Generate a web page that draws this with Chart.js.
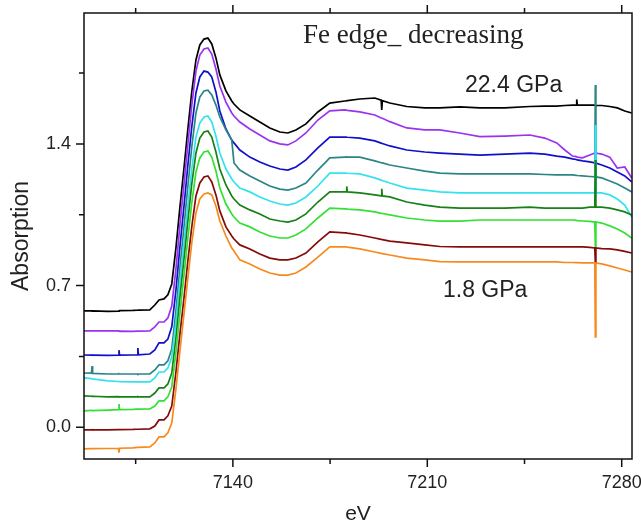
<!DOCTYPE html>
<html>
<head>
<meta charset="utf-8">
<title>Fe edge_ decreasing</title>
<script src="https://cdn.jsdelivr.net/npm/chart.js@4.4.1/dist/chart.umd.min.js"></script>
<style>
  html, body { margin: 0; padding: 0; background: #fff; }
  #chart { display: block; }
</style>
</head>
<body>
<canvas id="chart" width="641" height="527"></canvas>
<script>
// photon energy grid (eV), shared by every scan; tight triplets hold glitches
var energy = [7086.4, 7089.1, 7089.3, 7089.5, 7095.0, 7098.8, 7099.0, 7099.2, 7104.0, 7105.6, 7105.8, 7106.0,
  7110.1, 7111.9, 7113.4, 7115.2, 7116.6, 7118.0, 7119.5, 7120.9, 7122.4, 7123.8, 7125.2, 7126.7, 7128.1,
  7129.6, 7131.0, 7132.4, 7133.9, 7135.3, 7137.5, 7139.6, 7140.4, 7142.5, 7146.1, 7149.7, 7153.3, 7156.9,
  7159.8, 7162.7, 7166.3, 7170.6, 7174.9,
  7180.3, 7180.8, 7181.0, 7181.2, 7185.7, 7191.1, 7193.4, 7193.6, 7193.8,
  7196.5, 7202.6, 7209.1, 7214.5, 7221.7, 7228.9, 7237.9, 7246.9, 7252.3, 7256.6, 7259.5, 7262.3,
  7263.6, 7263.8, 7264.0, 7265.9, 7268.5, 7270.3, 7270.5, 7270.7, 7272.8, 7275.7, 7278.4, 7281.1, 7283.6];

// normalised absorption, stacked with offsets, 22.4 GPa on top down to 1.8 GPa
var scanBlack = [0.575, 0.575, 0.574, 0.575, 0.573, 0.574, 0.575, 0.576, 0.577, 0.578, 0.578, 0.579,
  0.580, 0.604, 0.629, 0.634, 0.654, 0.708, 0.886, 1.083, 1.281, 1.474, 1.657, 1.815, 1.889,
  1.918, 1.923, 1.894, 1.825, 1.741, 1.662, 1.612, 1.597, 1.568, 1.538, 1.508, 1.479, 1.459,
  1.454, 1.469, 1.499, 1.558, 1.602,
  1.612, 1.613, 1.613, 1.614, 1.622, 1.627, 1.616, 1.568, 1.614,
  1.602, 1.585, 1.578, 1.578, 1.583, 1.578, 1.578, 1.585, 1.587, 1.587, 1.590, 1.592,
  1.592, 1.620, 1.592, 1.592, 1.592, 1.592, 1.592, 1.590, 1.590, 1.585, 1.578, 1.563, 1.553];
var scanPurple = [0.476, 0.476, 0.476, 0.476, 0.476, 0.476, 0.475, 0.475, 0.474, 0.475, 0.475, 0.475,
  0.476, 0.496, 0.520, 0.520, 0.540, 0.599, 0.782, 0.995, 1.202, 1.400, 1.592, 1.760, 1.839,
  1.869, 1.874, 1.844, 1.770, 1.686, 1.607, 1.553, 1.538, 1.508, 1.474, 1.444, 1.415, 1.400,
  1.395, 1.415, 1.454, 1.518, 1.563,
  1.568, 1.567, 1.567, 1.566, 1.558, 1.543, 1.528, 1.528, 1.527,
  1.510, 1.479, 1.469, 1.469, 1.454, 1.436, 1.439, 1.444, 1.429, 1.405, 1.370, 1.340,
  1.337, 1.336, 1.335, 1.331, 1.345, 1.355, 1.355, 1.355, 1.350, 1.335, 1.281, 1.286, 1.232];
var scanBlue = [0.357, 0.356, 0.357, 0.356, 0.355, 0.356, 0.381, 0.356, 0.357, 0.358, 0.391, 0.358,
  0.362, 0.382, 0.417, 0.417, 0.436, 0.496, 0.678, 0.886, 1.093, 1.296, 1.484, 1.652, 1.731,
  1.760, 1.755, 1.731, 1.657, 1.563, 1.474, 1.419, 1.405, 1.370, 1.335, 1.311, 1.291, 1.276,
  1.271, 1.286, 1.321, 1.380, 1.434,
  1.434, 1.434, 1.434, 1.433, 1.429, 1.415, 1.404, 1.403, 1.402,
  1.390, 1.370, 1.360, 1.355, 1.350, 1.345, 1.350, 1.355, 1.350, 1.340, 1.335, 1.326,
  1.323, 1.322, 1.321, 1.316, 1.311, 1.306, 1.306, 1.306, 1.296, 1.281, 1.261, 1.242, 1.212];
var scanTeal = [0.268, 0.267, 0.302, 0.266, 0.263, 0.263, 0.264, 0.263, 0.263, 0.263, 0.262, 0.263,
  0.263, 0.283, 0.308, 0.308, 0.328, 0.387, 0.575, 0.782, 0.990, 1.192, 1.385, 1.553, 1.632,
  1.662, 1.666, 1.642, 1.592, 1.533, 1.469, 1.419, 1.306, 1.271, 1.242, 1.217, 1.192, 1.177,
  1.172, 1.182, 1.207, 1.271, 1.331,
  1.335, 1.335, 1.336, 1.335, 1.335, 1.316, 1.307, 1.307, 1.306,
  1.296, 1.281, 1.266, 1.256, 1.252, 1.252, 1.252, 1.252, 1.249, 1.247, 1.247, 1.247,
  1.245, 1.245, 1.244, 1.242, 1.239, 1.237, 1.691, 1.237, 1.232, 1.217, 1.202, 1.182, 1.163];
var scanCyan = [0.244, 0.240, 0.239, 0.239, 0.229, 0.226, 0.226, 0.225, 0.224, 0.224, 0.224, 0.224,
  0.224, 0.244, 0.273, 0.273, 0.293, 0.347, 0.520, 0.713, 0.911, 1.098, 1.276, 1.434, 1.503,
  1.533, 1.538, 1.508, 1.439, 1.355, 1.276, 1.227, 1.212, 1.182, 1.163, 1.138, 1.118, 1.103,
  1.098, 1.108, 1.138, 1.192, 1.256,
  1.256, 1.256, 1.256, 1.255, 1.252, 1.232, 1.221, 1.220, 1.219,
  1.207, 1.182, 1.172, 1.163, 1.158, 1.158, 1.158, 1.158, 1.158, 1.158, 1.158, 1.158,
  1.158, 1.158, 1.158, 1.158, 1.158, 1.158, 1.494, 1.158, 1.158, 1.148, 1.128, 1.098, 1.039];
var scanDarkGreen = [0.155, 0.153, 0.152, 0.153, 0.150, 0.151, 0.150, 0.150, 0.150, 0.150, 0.151, 0.150,
  0.150, 0.169, 0.194, 0.194, 0.214, 0.268, 0.441, 0.639, 0.832, 1.019, 1.202, 1.355, 1.429,
  1.459, 1.464, 1.434, 1.360, 1.276, 1.197, 1.143, 1.128, 1.098, 1.074, 1.054, 1.029, 1.019,
  1.014, 1.024, 1.054, 1.113, 1.163,
  1.163, 1.163, 1.190, 1.163, 1.158, 1.148, 1.143, 1.178, 1.143,
  1.138, 1.113, 1.098, 1.088, 1.083, 1.083, 1.083, 1.088, 1.083, 1.083, 1.083, 1.083,
  1.083, 1.083, 1.083, 1.083, 1.088, 1.088, 1.321, 1.088, 1.088, 1.083, 1.074, 1.064, 1.049];
var scanGreen = [0.081, 0.083, 0.083, 0.082, 0.085, 0.087, 0.115, 0.087, 0.088, 0.089, 0.089, 0.089,
  0.090, 0.105, 0.130, 0.130, 0.150, 0.199, 0.372, 0.560, 0.752, 0.935, 1.108, 1.261, 1.331,
  1.360, 1.365, 1.335, 1.266, 1.182, 1.103, 1.054, 1.039, 1.009, 0.990, 0.965, 0.945, 0.935,
  0.935, 0.950, 0.980, 1.034, 1.083,
  1.079, 1.079, 1.079, 1.078, 1.074, 1.064, 1.057, 1.057, 1.056,
  1.049, 1.034, 1.024, 1.019, 1.019, 1.024, 1.024, 1.024, 1.024, 1.024, 1.024, 1.024,
  1.022, 1.022, 1.021, 1.019, 1.017, 1.014, 0.891, 1.014, 1.009, 0.995, 0.980, 0.960, 0.935];
var scanBrown = [-0.013, -0.013, -0.012, -0.013, -0.013, -0.012, -0.012, -0.012, -0.011, -0.010, -0.010, -0.010,
  -0.008, 0.006, 0.036, 0.036, 0.056, 0.105, 0.273, 0.456, 0.639, 0.822, 0.990, 1.143, 1.207,
  1.237, 1.242, 1.212, 1.148, 1.069, 0.990, 0.945, 0.930, 0.901, 0.881, 0.856, 0.836, 0.827,
  0.827, 0.836, 0.861, 0.916, 0.965,
  0.960, 0.960, 0.960, 0.959, 0.950, 0.935, 0.928, 0.928, 0.927,
  0.920, 0.911, 0.901, 0.893, 0.891, 0.891, 0.891, 0.891, 0.891, 0.891, 0.891, 0.891,
  0.891, 0.891, 0.891, 0.891, 0.889, 0.886, 0.812, 0.886, 0.883, 0.881, 0.876, 0.869, 0.861];
var scanOrange = [-0.107, -0.106, -0.106, -0.106, -0.105, -0.104, -0.125, -0.104, -0.102, -0.100, -0.100, -0.100,
  -0.097, -0.078, -0.048, -0.048, -0.028, 0.021, 0.189, 0.372, 0.560, 0.738, 0.911, 1.059, 1.128,
  1.153, 1.158, 1.148, 1.093, 1.019, 0.945, 0.886, 0.871, 0.827, 0.807, 0.782, 0.762, 0.752,
  0.752, 0.762, 0.792, 0.841, 0.891,
  0.891, 0.891, 0.891, 0.890, 0.881, 0.866, 0.859, 0.859, 0.858,
  0.851, 0.836, 0.827, 0.818, 0.817, 0.817, 0.817, 0.817, 0.817, 0.817, 0.814, 0.814,
  0.813, 0.813, 0.813, 0.812, 0.812, 0.812, 0.446, 0.812, 0.807, 0.797, 0.787, 0.777, 0.767];

var scans = [scanBlack, scanPurple, scanBlue, scanTeal, scanCyan, scanDarkGreen, scanGreen, scanBrown, scanOrange];
var scanColors = ['#000000', '#9933f0', '#1010cc', '#2a8585', '#33e2ee', '#178017', '#33e033', '#850a0a', '#f78a1e'];

// axis ticks: labelled majors, minors halfway between
var xMajorTicks = [7140, 7210, 7280];
var yMajorTicks = [0.0, 0.7, 1.4];

var titleText = 'Fe edge_ decreasing';
var highLabel = '22.4 GPa';
var lowLabel = '1.8 GPa';

function isMajor(list, v) {
  return list.some(function (m) { return Math.abs(m - v) < 1e-6; });
}

// fixed axis boxes, no extra room for overhanging labels
function fixBox(w, h) {
  return function (s) {
    if (w) s.width = w;
    if (h) s.height = h;
    s.paddingLeft = 0; s.paddingRight = 0;
    s.paddingTop = 0; s.paddingBottom = 0;
  };
}

var datasets = scans.map(function (vals, i) {
  return {
    label: 'scan ' + (i + 1),
    data: vals.map(function (v, j) { return { x: energy[j], y: v }; }),
    borderColor: scanColors[i],
    borderWidth: 1.7,
    pointRadius: 0,
    tension: 0,
    fill: false,
    order: scans.length - i   // lower traces painted last
  };
});

// box, outward ticks on left/bottom/top, and the in-plot labels
var framePlugin = {
  id: 'frame',
  afterDraw: function (chart) {
    var c = chart.ctx, a = chart.chartArea;
    var xs = chart.scales.x, ys = chart.scales.y;
    c.save();
    c.strokeStyle = '#111';
    c.lineWidth = 1.5;
    c.strokeRect(a.left, a.top, a.right - a.left, a.bottom - a.top);
    c.beginPath();
    xs.ticks.forEach(function (t) {
      var px = xs.getPixelForValue(t.value);
      var len = isMajor(xMajorTicks, t.value) ? 8 : 5;
      c.moveTo(px, a.bottom); c.lineTo(px, a.bottom + len);
      c.moveTo(px, a.top); c.lineTo(px, a.top - len);
    });
    ys.ticks.forEach(function (t) {
      var py = ys.getPixelForValue(t.value);
      var len = isMajor(yMajorTicks, t.value) ? 8 : 5;
      c.moveTo(a.left, py); c.lineTo(a.left - len, py);
    });
    c.stroke();

    c.fillStyle = '#222';
    c.textBaseline = 'alphabetic';
    c.textAlign = 'left';
    c.font = '27px "Liberation Serif", "Times New Roman", serif';
    c.fillText(titleText, 303, 43);
    c.font = '23px "Liberation Sans", Arial, sans-serif';
    c.fillText(highLabel, 465, 92);
    c.fillText(lowLabel, 443, 297);
    c.restore();
  }
};

new Chart(document.getElementById('chart'), {
  type: 'line',
  data: { datasets: datasets },
  options: {
    responsive: false,
    animation: false,
    events: [],
    layout: { padding: { top: 13, right: 9, left: 0, bottom: 0 } },
    plugins: { legend: { display: false }, tooltip: { enabled: false } },
    scales: {
      x: {
        type: 'linear',
        min: 7086.4,
        max: 7283.7,
        afterFit: fixBox(0, 68),
        grid: { display: false, drawTicks: false },
        border: { display: false },
        ticks: {
          stepSize: 35,
          includeBounds: false,
          autoSkip: false,
          maxRotation: 0,
          padding: 13,
          color: '#222',
          font: { family: '"Liberation Sans", Arial, sans-serif', size: 18 },
          callback: function (v) { return isMajor(xMajorTicks, v) ? String(Math.round(v)) : ''; }
        },
        title: {
          display: true,
          text: 'eV',
          color: '#222',
          padding: { top: 0, bottom: 0 },
          font: { family: '"Liberation Sans", Arial, sans-serif', size: 21 }
        }
      },
      y: {
        min: -0.157,
        max: 2.047,
        afterFit: fixBox(84, 0),
        grid: { display: false, drawTicks: false },
        border: { display: false },
        ticks: {
          stepSize: 0.35,
          includeBounds: false,
          autoSkip: false,
          padding: 13,
          color: '#222',
          font: { family: '"Liberation Sans", Arial, sans-serif', size: 18 },
          callback: function (v) { return isMajor(yMajorTicks, v) ? v.toFixed(1) : ''; }
        },
        title: {
          display: true,
          text: 'Absorption',
          color: '#222',
          padding: { top: 8, bottom: 0 },
          font: { family: '"Liberation Sans", Arial, sans-serif', size: 23 }
        }
      }
    }
  },
  plugins: [framePlugin]
});
</script>
</body>
</html>
